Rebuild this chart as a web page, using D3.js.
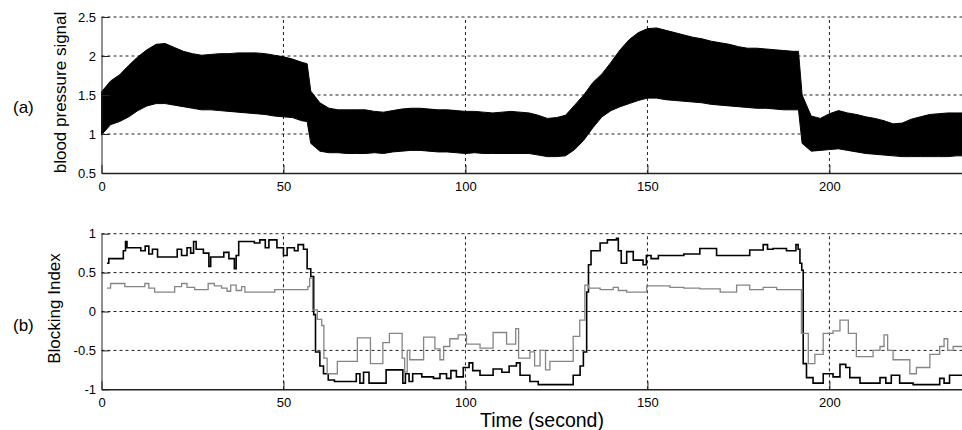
<!DOCTYPE html>
<html>
<head>
<meta charset="utf-8">
<script src="https://cdn.jsdelivr.net/npm/d3@7"></script>
<style>
body { margin: 0; background: #fff; }
text { font-family: "Liberation Sans", Arial, sans-serif; }
</style>
</head>
<body>
<div id="chart"></div>
<script>
// tick values
var xTicks = [0, 50, 100, 150, 200];
var bpTicks = [0.5, 1, 1.5, 2, 2.5];
var biTicks = [-1, -0.5, 0, 0.5, 1];

// (a) blood pressure: upper / lower envelope of the beat-to-beat signal
var bpTime = [0, 2.5, 5, 7.5, 10, 12.5, 15, 17.5, 20, 22.5, 25, 27.5, 30, 32.5, 35, 37.5, 40, 42.5, 45, 47.5,
    50, 52.5, 55, 56.5, 57.5, 60, 62.5, 65, 67.5, 70, 72.5, 75, 77.5, 80, 82.5, 85, 87.5, 90, 92.5, 95, 97.5,
    100, 102.5, 105, 107.5, 110, 112.5, 115, 117.5, 120, 122.5, 125, 127.5, 130, 132.5, 135, 137.5, 140, 142.5, 145, 147.5,
    150, 152.5, 155, 157.5, 160, 162.5, 165, 167.5, 170, 172.5, 175, 177.5, 180, 182.5, 185, 187.5, 190, 191.5, 192.5, 195, 197.5,
    200, 202.5, 205, 207.5, 210, 212.5, 215, 217.5, 220, 222.5, 225, 227.5, 230, 232.5, 235, 237.5];
var bpUpper = [1.54, 1.68, 1.76, 1.88, 1.99, 2.08, 2.15, 2.16, 2.11, 2.06, 2.03, 2.01, 2.02, 2.03, 2.03, 2.04, 2.04, 2.04, 2.03, 2.01,
    1.99, 1.96, 1.92, 1.90, 1.55, 1.40, 1.33, 1.31, 1.31, 1.31, 1.31, 1.29, 1.28, 1.30, 1.32, 1.33, 1.33, 1.32, 1.31, 1.31, 1.30,
    1.29, 1.29, 1.28, 1.27, 1.28, 1.29, 1.28, 1.27, 1.24, 1.20, 1.21, 1.24, 1.37, 1.50, 1.66, 1.77, 1.92, 2.08, 2.21, 2.30,
    2.35, 2.36, 2.33, 2.30, 2.27, 2.24, 2.22, 2.19, 2.17, 2.15, 2.12, 2.10, 2.10, 2.09, 2.08, 2.07, 2.06, 2.06, 1.50, 1.23, 1.20,
    1.26, 1.30, 1.27, 1.25, 1.22, 1.20, 1.17, 1.13, 1.14, 1.19, 1.22, 1.25, 1.26, 1.27, 1.27, 1.27];
var bpLower = [0.99, 1.12, 1.16, 1.22, 1.30, 1.36, 1.39, 1.39, 1.37, 1.35, 1.33, 1.31, 1.31, 1.30, 1.29, 1.28, 1.27, 1.26, 1.25, 1.23,
    1.22, 1.21, 1.17, 1.16, 0.88, 0.78, 0.76, 0.76, 0.75, 0.75, 0.75, 0.76, 0.75, 0.77, 0.78, 0.79, 0.79, 0.78, 0.77, 0.77, 0.76,
    0.75, 0.76, 0.75, 0.75, 0.75, 0.75, 0.75, 0.75, 0.73, 0.71, 0.71, 0.72, 0.80, 0.92, 1.08, 1.22, 1.30, 1.35, 1.39, 1.43,
    1.46, 1.46, 1.44, 1.43, 1.42, 1.41, 1.40, 1.38, 1.37, 1.36, 1.35, 1.34, 1.33, 1.33, 1.32, 1.31, 1.31, 1.31, 0.88, 0.78, 0.79,
    0.80, 0.81, 0.79, 0.77, 0.75, 0.74, 0.73, 0.72, 0.71, 0.71, 0.71, 0.71, 0.71, 0.71, 0.72, 0.72];

// (b) blocking index, black trace
var blackTime = [1.5, 2, 6, 6.6, 7, 10.8, 12, 13, 14, 15.4, 20.8, 22, 23.5, 24.5, 25.3, 26, 28, 29.5, 30, 33.6,
    35, 36.5, 37, 37.7, 42, 43.5, 45, 46, 48.2, 50, 51, 53, 54, 55.5, 56.5, 57.5, 58.3, 58.8, 60, 61,
    62.3, 64, 70, 71, 72, 73.5, 78.2, 82.8, 83.5, 84.5, 85.5, 88, 91.2, 93, 94.8, 96, 97.5, 99.4, 101, 102,
    104, 107.6, 110, 112, 114, 115, 117.7, 120, 129.6, 131.5, 132.4, 133.3, 133.8, 134.5, 137, 139, 141.5, 142, 142.8, 144.3,
    146.1, 148.8, 149.7, 151, 153, 156.2, 160, 164.4, 169, 175.4, 178.1, 181.8, 183, 184.5, 188.2, 190.8, 191.4, 191.9, 192.4, 192.8,
    193.7, 195.5, 198.3, 201, 202.9, 204.5, 205.6, 208.4, 213.9, 215.5, 217, 219.3, 223, 230.3, 231.5, 233, 240];
var blackIndex = [0.62, 0.68, 0.78, 0.90, 0.82, 0.78, 0.84, 0.74, 0.80, 0.70, 0.80, 0.72, 0.82, 0.75, 0.90, 0.80, 0.75, 0.58, 0.70, 0.76,
    0.68, 0.55, 0.72, 0.90, 0.88, 0.92, 0.82, 0.92, 0.82, 0.72, 0.82, 0.78, 0.86, 0.80, 0.55, 0.45, -0.04, -0.52, -0.70, -0.80,
    -0.88, -0.90, -0.80, -0.92, -0.78, -0.92, -0.75, -0.92, -0.80, -0.90, -0.80, -0.84, -0.86, -0.80, -0.86, -0.76, -0.84, -0.72, -0.66, -0.76,
    -0.82, -0.74, -0.78, -0.70, -0.66, -0.82, -0.90, -0.94, -0.82, -0.70, -0.52, 0.25, 0.60, 0.78, 0.88, 0.92, 0.94, 0.78, 0.62, 0.77,
    0.66, 0.60, 0.72, 0.68, 0.72, 0.72, 0.74, 0.81, 0.72, 0.72, 0.79, 0.86, 0.80, 0.81, 0.78, 0.86, 0.80, 0.62, 0.53, -0.67,
    -0.85, -0.92, -0.80, -0.84, -0.68, -0.72, -0.85, -0.92, -0.85, -0.92, -0.82, -0.92, -0.94, -0.86, -0.92, -0.82, -0.82];

// (b) blocking index, grey trace
var grayTime = [1.5, 2.5, 6.4, 11.9, 13, 14.6, 20.1, 22, 23.5, 25.6, 29.3, 31, 33, 34.5, 35.5, 37, 38.5, 39.4, 47.6, 56.7,
    57.2, 58, 59.3, 60.5, 61.1, 62, 64.8, 70.3, 73.9, 77.3, 79.1, 82.6, 83.3, 84, 84.7, 88.5, 91.6, 93, 94, 95.7,
    98, 100.3, 104, 107.6, 111.3, 113.8, 114.6, 117.7, 119, 120.5, 122, 123.2, 129.6, 131.4, 132.8, 133.8, 137, 140.6, 142, 144.3,
    149.8, 156.2, 160, 164.4, 170, 174.5, 178.1, 181.8, 185.5, 192.3, 194.2, 196, 198.3, 201, 202.9, 205.2, 207.4, 212, 213.9, 215,
    216, 217.5, 222.1, 223.9, 227.6, 230.3, 231.5, 232.5, 234, 240];
var grayIndex = [0.30, 0.36, 0.32, 0.36, 0.30, 0.25, 0.32, 0.36, 0.31, 0.28, 0.36, 0.33, 0.30, 0.26, 0.34, 0.27, 0.32, 0.25, 0.28, 0.32,
    0.43, 0.02, -0.10, -0.18, -0.60, -0.80, -0.64, -0.34, -0.67, -0.40, -0.28, -0.60, -0.78, -0.50, -0.62, -0.33, -0.48, -0.62, -0.45, -0.35,
    -0.30, -0.42, -0.47, -0.27, -0.42, -0.22, -0.60, -0.52, -0.70, -0.50, -0.75, -0.64, -0.32, -0.11, 0.34, 0.30, 0.28, 0.31, 0.27, 0.25,
    0.33, 0.31, 0.30, 0.29, 0.25, 0.34, 0.28, 0.31, 0.28, -0.28, -0.67, -0.55, -0.28, -0.25, -0.11, -0.28, -0.58, -0.50, -0.45, -0.30,
    -0.50, -0.62, -0.80, -0.72, -0.55, -0.45, -0.35, -0.50, -0.45, -0.45];

var w = 962;
var h = 430;
var svg = d3.select("#chart")
    .append("svg")
    .attr("width", w)
    .attr("height", h);

var x = d3.scaleLinear()
    .domain([0, 240])
    .range([101.5, 975]);
var yTop = d3.scaleLinear()
    .domain([0.5, 2.5])
    .range([173, 17]);
var yBot = d3.scaleLinear()
    .domain([-1, 1])
    .range([389.3, 233.7]);

function fmt(d) { return String(d); }

function grid(g, y, yTicks) {
    g.selectAll("line.hg")
        .data(yTicks.slice(1))
        .enter().append("line")
        .attr("class", "hg")
        .attr("x1", x(0)).attr("x2", x(240))
        .attr("y1", function(d) { return y(d); })
        .attr("y2", function(d) { return y(d); });
    g.selectAll("line.vg")
        .data(xTicks.slice(1))
        .enter().append("line")
        .attr("class", "vg")
        .attr("x1", function(d) { return x(d); })
        .attr("x2", function(d) { return x(d); })
        .attr("y1", y.range()[0]).attr("y2", y.range()[1]);
    g.selectAll("line")
        .attr("stroke", "#222")
        .attr("stroke-width", 1)
        .attr("stroke-dasharray", "3,3");
}

function axes(y, yTicks) {
    var gx = svg.append("g")
        .attr("transform", "translate(0," + y.range()[0] + ")")
        .call(d3.axisBottom(x).tickValues(xTicks).tickFormat(fmt)
            .tickSize(-8).tickSizeOuter(0).tickPadding(8.5));
    var gy = svg.append("g")
        .attr("transform", "translate(" + x(0) + ",0)")
        .call(d3.axisLeft(y).tickValues(yTicks).tickFormat(fmt)
            .tickSize(-8).tickSizeOuter(0).tickPadding(5.5));
    [gx, gy].forEach(function(g) {
        g.selectAll("path").attr("stroke", "#222");
        g.selectAll("line").attr("stroke", "#222");
        g.selectAll("text")
            .attr("fill", "#000")
            .style("font-size", "13px")
            .style("font-family", "'Liberation Sans', Arial, sans-serif");
    });
    gx.select("path").attr("stroke-width", 1.5);
}

// ---- panel (a)
grid(svg.append("g"), yTop, bpTicks);

var band = d3.area()
    .x(function(d, i) { return x(bpTime[i]); })
    .y0(function(d, i) { return yTop(bpLower[i]); })
    .y1(function(d, i) { return yTop(bpUpper[i]); });
svg.append("path")
    .datum(bpTime)
    .attr("d", band)
    .attr("fill", "#000")
    .attr("stroke", "#000")
    .attr("stroke-width", 1);

axes(yTop, bpTicks);

// ---- panel (b)
grid(svg.append("g"), yBot, biTicks);

function trace(times, vals) {
    return d3.line()
        .x(function(d, i) { return x(times[i]); })
        .y(function(d) { return yBot(d); })
        .curve(d3.curveStepAfter)(vals);
}
svg.append("path")
    .attr("d", trace(blackTime, blackIndex))
    .attr("fill", "none")
    .attr("stroke", "#000")
    .attr("stroke-width", 1.6);
svg.append("path")
    .attr("d", trace(grayTime, grayIndex))
    .attr("fill", "none")
    .attr("stroke", "#858585")
    .attr("stroke-width", 1.3);

axes(yBot, biTicks);

// labels
svg.append("text").attr("x", 13).attr("y", 113).style("font-size", "17px").text("(a)");
svg.append("text").attr("x", 13).attr("y", 330.5).style("font-size", "17px").text("(b)");
svg.append("text")
    .attr("transform", "translate(66,92.5) rotate(-90)")
    .attr("text-anchor", "middle")
    .style("font-size", "17px")
    .text("blood pressure signal");
svg.append("text")
    .attr("transform", "translate(60,308.5) rotate(-90)")
    .attr("text-anchor", "middle")
    .style("font-size", "17px")
    .text("Blocking Index");
svg.append("text")
    .attr("x", 542)
    .attr("y", 426.5)
    .attr("text-anchor", "middle")
    .style("font-size", "19.5px")
    .text("Time (second)");
</script>
</body>
</html>
